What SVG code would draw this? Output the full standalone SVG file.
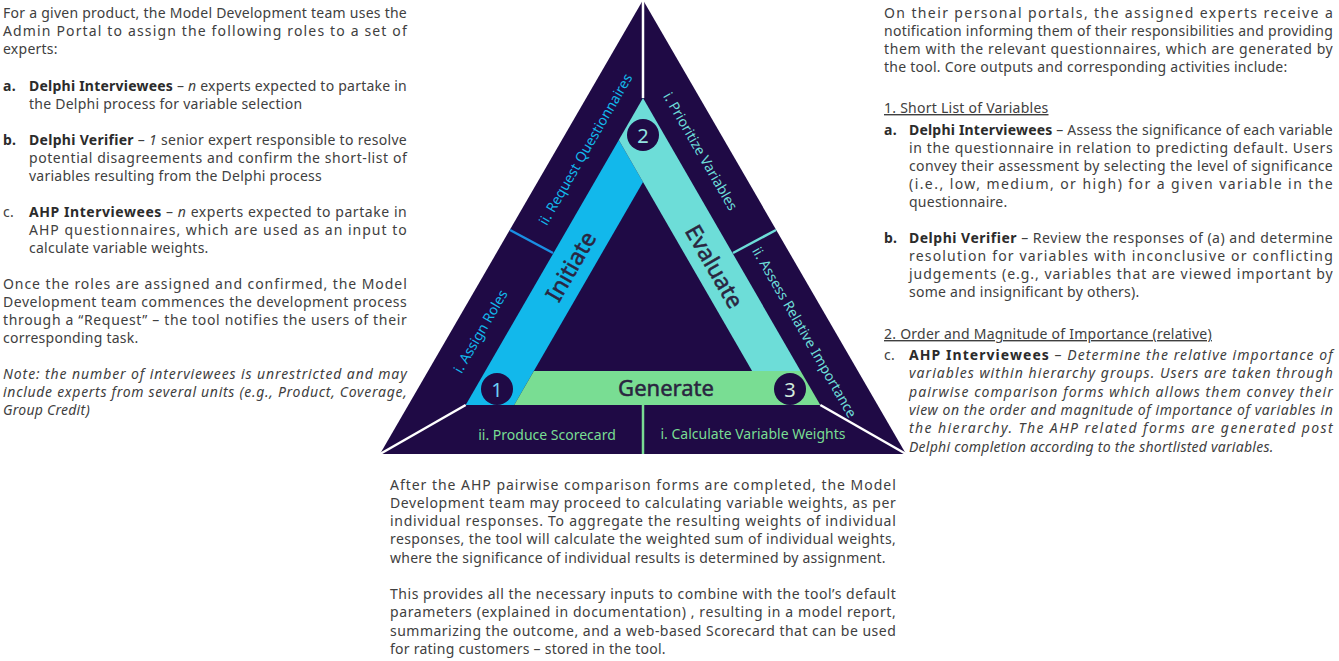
<svg xmlns="http://www.w3.org/2000/svg" width="1339" height="661" viewBox="0 0 1339 661">
<style>
  .t { font-family: "Noto Sans", "Liberation Sans", sans-serif; font-size: 14px; fill: #404040; letter-spacing: 0.25px; }
  .b { font-weight: bold; fill: #2b2b2b; }
  .i { font-style: italic; }
  .u { text-decoration: underline; }
  .lbl { font-family: "Noto Sans", "Liberation Sans", sans-serif; font-size: 14px; text-anchor: middle; dominant-baseline: central; }
  .phase { font-family: "Noto Sans", "Liberation Sans", sans-serif; font-size: 23px; fill: #2a2540; stroke: #2a2540; stroke-width: 0.5px; text-anchor: middle; dominant-baseline: central; }
  .num { font-family: "Noto Sans", "Liberation Sans", sans-serif; font-size: 20px; text-anchor: middle; dominant-baseline: central; }
  .blue { fill: #12B8EB; }
  .cyan { fill: #6DDDD8; }
  .green { fill: #79DD93; }
  .dark { fill: #1F0A45; }
</style>
<rect width="1339" height="661" fill="#ffffff"/>

<g id="outer-triangle">
  <polygon class="dark" points="643,0 380,454 906,454"/>
</g>

<g id="initiate">
  <polygon class="blue" points="618.8,140 465.7,405 514.2,405 643,182"/>
  <text class="phase" x="570" y="266" transform="rotate(-60 570 266)">Initiate</text>
</g>
<g id="evaluate">
  <polygon class="cyan" points="643,98 618.8,140 643,182 752.1,371 800.6,371"/>
  <text class="phase" x="715" y="266" transform="rotate(60 715 266)">Evaluate</text>
</g>
<g id="generate">
  <polygon class="green" points="533.9,371 800.6,371 820.3,405 514.2,405"/>
  <text class="phase" x="666" y="387" style="font-size:22px">Generate</text>
</g>

<g id="connectors" stroke-linecap="butt" fill="none">
  <line x1="643" y1="0" x2="643" y2="98" stroke="#ffffff" stroke-width="2.5"/>
  <line x1="380" y1="454" x2="465.7" y2="405" stroke="#ffffff" stroke-width="2.5"/>
  <line x1="906" y1="454" x2="820.3" y2="405" stroke="#ffffff" stroke-width="2.5"/>
  <line x1="643" y1="405" x2="643" y2="454" stroke="#79DD93" stroke-width="2.5"/>
  <line x1="510" y1="230" x2="553" y2="253" stroke="#1A8FE3" stroke-width="2.5"/>
  <line x1="776" y1="230" x2="733" y2="253" stroke="#6DDDD8" stroke-width="2.5"/>
</g>

<g id="step1">
  <circle class="dark" cx="497" cy="389" r="16"/>
  <text class="num" x="497" y="389" fill="#6ECFF4">1</text>
</g>
<g id="step2">
  <circle class="dark" cx="643" cy="135" r="16"/>
  <text class="num" x="643" y="135" fill="#93E4E0">2</text>
</g>
<g id="step3">
  <circle class="dark" cx="790" cy="389" r="16"/>
  <text class="num" x="790" y="389" fill="#D3EBDD">3</text>
</g>

<g id="label-assign-roles">
  <text class="lbl blue" x="480" y="331" transform="rotate(-60 480 331)">i. Assign Roles</text>
</g>
<g id="label-request-questionnaires">
  <text class="lbl blue" x="585" y="149" transform="rotate(-60 585 149)">ii. Request Questionnaires</text>
</g>
<g id="label-prioritize-variables">
  <text class="lbl cyan" x="701" y="151" transform="rotate(60 701 151)">i. Prioritize Variables</text>
</g>
<g id="label-assess-importance">
  <text class="lbl cyan" x="805" y="332" transform="rotate(60 805 332)">ii. Assess Relative Importance</text>
</g>
<g id="label-produce-scorecard">
  <text class="lbl green" x="547" y="434">ii. Produce Scorecard</text>
</g>
<g id="label-calculate-weights">
  <text class="lbl green" x="753" y="433">i. Calculate Variable Weights</text>
</g>

<g id="left-text">
  <text class="t" x="3" y="18" textLength="404" lengthAdjust="spacing">For a given product, the Model Development team uses the</text>
  <text class="t" x="3" y="36" textLength="404" lengthAdjust="spacing">Admin Portal to assign the following roles to a set of</text>
  <text class="t" x="3" y="54">experts:</text>

  <text class="t b" x="3" y="91">a.</text>
  <text class="t" x="29" y="91" textLength="378" lengthAdjust="spacing"><tspan class="b">Delphi Interviewees</tspan> – <tspan class="i">n</tspan> experts expected to partake in</text>
  <text class="t" x="29" y="109">the Delphi process for variable selection</text>

  <text class="t b" x="3" y="145">b.</text>
  <text class="t" x="29" y="145" textLength="378" lengthAdjust="spacing"><tspan class="b">Delphi Verifier</tspan> – <tspan class="i">1</tspan> senior expert responsible to resolve</text>
  <text class="t" x="29" y="163" textLength="378" lengthAdjust="spacing">potential disagreements and confirm the short-list of</text>
  <text class="t" x="29" y="181">variables resulting from the Delphi process</text>

  <text class="t" x="3" y="217">c.</text>
  <text class="t" x="29" y="217" textLength="378" lengthAdjust="spacing"><tspan class="b">AHP Interviewees</tspan> – <tspan class="i">n</tspan> experts expected to partake in</text>
  <text class="t" x="29" y="235" textLength="378" lengthAdjust="spacing">AHP questionnaires, which are used as an input to</text>
  <text class="t" x="29" y="253">calculate variable weights.</text>

  <text class="t" x="3" y="289" textLength="404" lengthAdjust="spacing">Once the roles are assigned and confirmed, the Model</text>
  <text class="t" x="3" y="307" textLength="404" lengthAdjust="spacing">Development team commences the development process</text>
  <text class="t" x="3" y="325" textLength="404" lengthAdjust="spacing">through a “Request” – the tool notifies the users of their</text>
  <text class="t" x="3" y="343">corresponding task.</text>

  <text class="t i" x="3" y="379" textLength="404" lengthAdjust="spacing">Note: the number of interviewees is unrestricted and may</text>
  <text class="t i" x="3" y="397" textLength="404" lengthAdjust="spacing">include experts from several units (e.g., Product, Coverage,</text>
  <text class="t i" x="3" y="415">Group Credit)</text>
</g>

<g id="right-text">
  <text class="t" x="884" y="18" textLength="449" lengthAdjust="spacing">On their personal portals, the assigned experts receive a</text>
  <text class="t" x="884" y="36" textLength="449" lengthAdjust="spacing">notification informing them of their responsibilities and providing</text>
  <text class="t" x="884" y="54" textLength="449" lengthAdjust="spacing">them with the relevant questionnaires, which are generated by</text>
  <text class="t" x="884" y="72">the tool. Core outputs and corresponding activities include:</text>

  <text class="t u" x="884" y="113">1. Short List of Variables</text>
  <text class="t b" x="884" y="135">a.</text>
  <text class="t" x="909" y="135" textLength="424" lengthAdjust="spacing"><tspan class="b">Delphi Interviewees</tspan> – Assess the significance of each variable</text>
  <text class="t" x="909" y="153" textLength="424" lengthAdjust="spacing">in the questionnaire in relation to predicting default. Users</text>
  <text class="t" x="909" y="171" textLength="424" lengthAdjust="spacing">convey their assessment by selecting the level of significance</text>
  <text class="t" x="909" y="189" textLength="424" lengthAdjust="spacing">(i.e., low, medium, or high) for a given variable in the</text>
  <text class="t" x="909" y="207">questionnaire.</text>

  <text class="t b" x="884" y="243">b.</text>
  <text class="t" x="909" y="243" textLength="424" lengthAdjust="spacing"><tspan class="b">Delphi Verifier</tspan> – Review the responses of (a) and determine</text>
  <text class="t" x="909" y="261" textLength="424" lengthAdjust="spacing">resolution for variables with inconclusive or conflicting</text>
  <text class="t" x="909" y="279" textLength="424" lengthAdjust="spacing">judgements (e.g., variables that are viewed important by</text>
  <text class="t" x="909" y="297">some and insignificant by others).</text>

  <text class="t u" x="884" y="339">2. Order and Magnitude of Importance (relative)</text>
  <text class="t" x="884" y="360">c.</text>
  <text class="t" x="909" y="360" textLength="424" lengthAdjust="spacing"><tspan class="b">AHP Interviewees</tspan> – <tspan class="i">Determine the relative importance of</tspan></text>
  <text class="t i" x="909" y="378.3" textLength="424" lengthAdjust="spacing">variables within hierarchy groups. Users are taken through</text>
  <text class="t i" x="909" y="396.6" textLength="424" lengthAdjust="spacing">pairwise comparison forms which allows them convey their</text>
  <text class="t i" x="909" y="414.9" textLength="424" lengthAdjust="spacing">view on the order and magnitude of importance of variables in</text>
  <text class="t i" x="909" y="433.2" textLength="424" lengthAdjust="spacing">the hierarchy. The AHP related forms are generated post</text>
  <text class="t i" x="909" y="451.5">Delphi completion according to the shortlisted variables.</text>
</g>

<g id="bottom-text">
  <text class="t" x="390" y="489.5" textLength="506" lengthAdjust="spacing">After the AHP pairwise comparison forms are completed, the Model</text>
  <text class="t" x="390" y="507.8" textLength="506" lengthAdjust="spacing">Development team may proceed to calculating variable weights, as per</text>
  <text class="t" x="390" y="526.1" textLength="506" lengthAdjust="spacing">individual responses. To aggregate the resulting weights of individual</text>
  <text class="t" x="390" y="544.4" textLength="506" lengthAdjust="spacing">responses, the tool will calculate the weighted sum of individual weights,</text>
  <text class="t" x="390" y="562.7">where the significance of individual results is determined by assignment.</text>

  <text class="t" x="390" y="599" textLength="506" lengthAdjust="spacing">This provides all the necessary inputs to combine with the tool’s default</text>
  <text class="t" x="390" y="617.3" textLength="506" lengthAdjust="spacing">parameters (explained in documentation) , resulting in a model report,</text>
  <text class="t" x="390" y="635.6" textLength="506" lengthAdjust="spacing">summarizing the outcome, and a web-based Scorecard that can be used</text>
  <text class="t" x="390" y="653.9">for rating customers – stored in the tool.</text>
</g>
</svg>
